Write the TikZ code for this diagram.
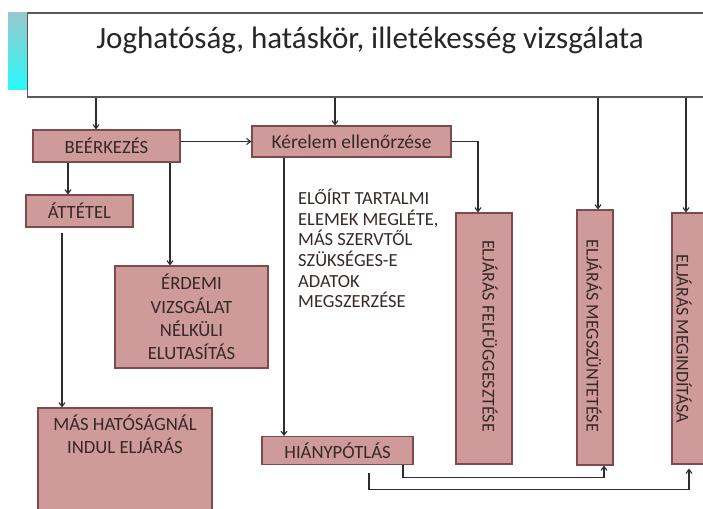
\documentclass[tikz,border=0pt]{standalone}
\usepackage{fontspec}
\setmainfont{Carlito}
\usetikzlibrary{arrows.meta}
\definecolor{boxfill}{RGB}{206,154,154}
\definecolor{boxdraw}{RGB}{125,75,75}
\definecolor{txt}{RGB}{55,40,40}
\definecolor{lnc}{RGB}{45,45,45}
\definecolor{decotop}{RGB}{150,200,205}
\definecolor{decomid}{RGB}{90,190,250}
\definecolor{decobot}{RGB}{40,250,250}
\begin{document}
\begin{tikzpicture}[x=1pt,y=-1pt,
  box/.style={draw=boxdraw, fill=boxfill, line width=1.1pt, inner sep=0pt, text=txt, font=\fontsize{18.7}{22}\selectfont},
  rottext/.style={rotate=-90, text=txt, inner sep=0pt, font=\fontsize{18}{21}\selectfont},
  arr/.style={draw=lnc, line width=1.1pt, -{Straight Barb[length=4pt,width=6pt]}}]
\useasboundingbox (0,0) rectangle (703,508);
\clip (0,0) rectangle (703,508);
\shade[top color=decotop, middle color=decomid, bottom color=decobot] (8,13) rectangle (27.5,90);
\node[draw=black!65, line width=1.3pt, fill=white, minimum width=689.5pt, minimum height=84pt, inner sep=0pt] (title) at (372.25,55) {};
\node[text=black!85, inner sep=0pt, font=\fontsize{31}{35}\selectfont] (titletext) at (370,40) {Joghatóság, hatáskör, illetékesség vizsgálata};
\node[box, minimum width=147pt, minimum height=32pt] (beer) at (106.5,146) {BEÉRKEZÉS};
\node[box, minimum width=199pt, minimum height=31pt, font=\fontsize{19.5}{23}\selectfont] (ker) at (351.5,141.5) {Kérelem ellenőrzése};
\node[box, minimum width=107pt, minimum height=32pt] (att) at (79.5,211) {ÁTTÉTEL};
\node[box, minimum width=153pt, minimum height=102pt, align=center, font=\fontsize{18.7}{23.3}\selectfont] (erd) at (191.5,317) {ÉRDEMI\\VIZSGÁLAT\\NÉLKÜLI\\ELUTASÍTÁS};
\node[box, minimum width=174pt, minimum height=107pt] (mas) at (125,461.5) {};
\node[text=txt, align=center, inner sep=0pt, font=\fontsize{18.7}{23}\selectfont] (mastext) at (125,434) {MÁS HATÓSÁGNÁL\\INDUL ELJÁRÁS};
\node[box, minimum width=151pt, minimum height=28pt] (hiany) at (337.5,450.5) {HIÁNYPÓTLÁS};
\node[box, minimum width=56pt, minimum height=251pt] (felf) at (484,338.5) {};
\node[box, minimum width=36pt, minimum height=255pt] (megsz) at (595,337.5) {};
\node[box, minimum width=36pt, minimum height=251pt] (megind) at (690,338.5) {};
\node[rottext] (felft) at (490,336) {ELJÁRÁS FELFÜGGESZTÉSE};
\node[rottext] (megszt) at (594,336) {ELJÁRÁS MEGSZÜNTETÉSE};
\node[rottext] (megindt) at (684,339) {ELJÁRÁS MEGINDÍTÁSA};
\node[anchor=north west, align=left, inner sep=0pt, text=txt, font=\fontsize{18.5}{20.6}\selectfont] (elo) at (298,189) {ELŐÍRT TARTALMI\\ELEMEK MEGLÉTE,\\MÁS SZERVTŐL\\SZÜKSÉGES-E\\ADATOK\\MEGSZERZÉSE};
\coordinate (c96) at (96,0);
\coordinate (c335) at (335,0);
\coordinate (c598) at (598,0);
\coordinate (c686) at (686,0);
\coordinate (c478) at (478,0);
\coordinate (c68) at (68,0);
\coordinate (c170) at (170,0);
\coordinate (c62) at (62,0);
\coordinate (c284) at (284,0);
\coordinate (c403) at (403,0);
\coordinate (c604) at (604,0);
\coordinate (c369) at (369,0);
\coordinate (c689) at (689,0);
\coordinate (attb) at ([yshift=-5pt]att.south);
\coordinate (hb) at ([yshift=-8pt]hiany.south);
\coordinate (mib) at ([yshift=-4pt]megind.south);
\draw[arr] (title.south -| c96) -- (beer.north -| c96);
\draw[arr] (title.south -| c335) -- (ker.north -| c335);
\draw[arr] (title.south -| c598) -- (megsz.north -| c598);
\draw[arr] (title.south -| c686) -- (megind.north -| c686);
\draw[arr] (beer.east |- ker.west) -- (ker.west);
\draw[arr] (ker.east) -| (felf.north -| c478);
\draw[arr] (beer.south -| c68) -- (att.north -| c68);
\draw[arr] (beer.south -| c170) -- (erd.north -| c170);
\draw[arr] (attb -| c62) -- (mas.north -| c62);
\draw[arr] (ker.south -| c284) -- (hiany.north -| c284);
\draw[arr] (hiany.south -| c403) -- ++(0,12) -| (megsz.south -| c604);
\draw[arr] (hb -| c369) -- ++(0,16) -| (mib -| c689);
\end{tikzpicture}
\end{document}
